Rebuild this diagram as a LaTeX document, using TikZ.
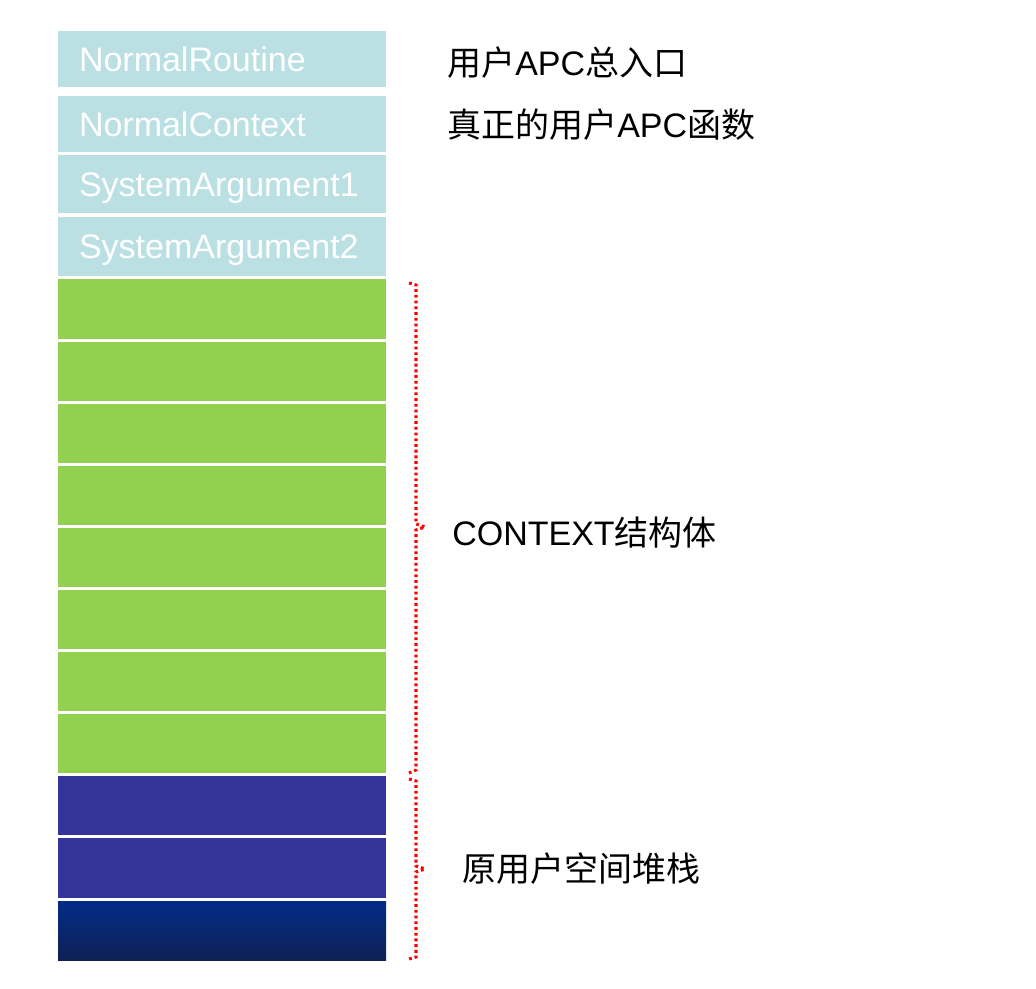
\documentclass[tikz,border=0pt]{standalone}
\usepackage{fontspec}
\setmainfont{Liberation Sans}
\newfontfamily\cjk{Noto Sans CJK SC}
\definecolor{cellblue}{HTML}{BBE0E3}
\definecolor{cellgreen}{HTML}{92D050}
\definecolor{cellpurple}{HTML}{333399}
\definecolor{gradtop}{HTML}{022C86}
\definecolor{gradmid}{HTML}{072A7C}
\definecolor{gradbot}{HTML}{0F2156}
\begin{document}
\begin{tikzpicture}[x=0.75pt,y=-0.75pt,
  cell/.style={rectangle, draw=none, minimum width=246pt, inner xsep=15.75pt, inner ysep=0pt,
    text width=214.5pt, align=left, text=white, font=\fontsize{25.5pt}{30pt}\selectfont,
    text height=18.4pt, text depth=0pt},
  note/.style={anchor=west, inner sep=0pt, font=\fontsize{25.5pt}{30pt}\selectfont, text=black},
  bracket/.style={draw=red, line width=2.3pt, dash pattern=on 2.1pt off 2.2pt}]
\useasboundingbox (0,0) rectangle (1036,989);
% light blue rows
\foreach \i/\t/\b/\lab in {1/31/87/NormalRoutine, 2/96/152/NormalContext, 3/155/213/SystemArgument1, 4/217/276/SystemArgument2} {
  \node[cell, fill=cellblue, minimum height={(\b-\t)*0.75pt}] (r\i) at (222,{(\t+\b)/2}) {\lab};
}
% green rows
\foreach \i/\t/\b in {5/279/339, 6/342/401, 7/404/463, 8/466/525, 9/528/587, 10/590/649, 11/652/711, 12/714/773} {
  \node[cell, fill=cellgreen, minimum height={(\b-\t)*0.75pt}] (r\i) at (222,{(\t+\b)/2}) {};
}
% purple rows
\foreach \i/\t/\b in {13/776/835, 14/838/898} {
  \node[cell, fill=cellpurple, minimum height={(\b-\t)*0.75pt}] (r\i) at (222,{(\t+\b)/2}) {};
}
\node[cell, top color=gradtop, middle color=gradmid, bottom color=gradbot, minimum height={59*0.75pt}] (r15) at (222,930.5) {};
% notes
\node[note] (n1) at (447,63) {{\cjk 用户}APC{\cjk 总入口}};
\node[note] (n2) at (447,125) {{\cjk 真正的用户}APC{\cjk 函数}};
\node[note] (n3) at (452,533) {CONTEXT{\cjk 结构体}};
\node[note] (n4) at (462,869) {{\cjk 原用户空间堆栈}};
% brackets
\draw[bracket] (409,283) -- (416,285) -- (416,524) -- (425,527) -- (416,530) -- (416,770) -- (409,773);
\draw[bracket] (409,779) -- (416,781) -- (416,866) -- (425,869) -- (416,872) -- (416,957) -- (409,959);
\end{tikzpicture}
\end{document}
